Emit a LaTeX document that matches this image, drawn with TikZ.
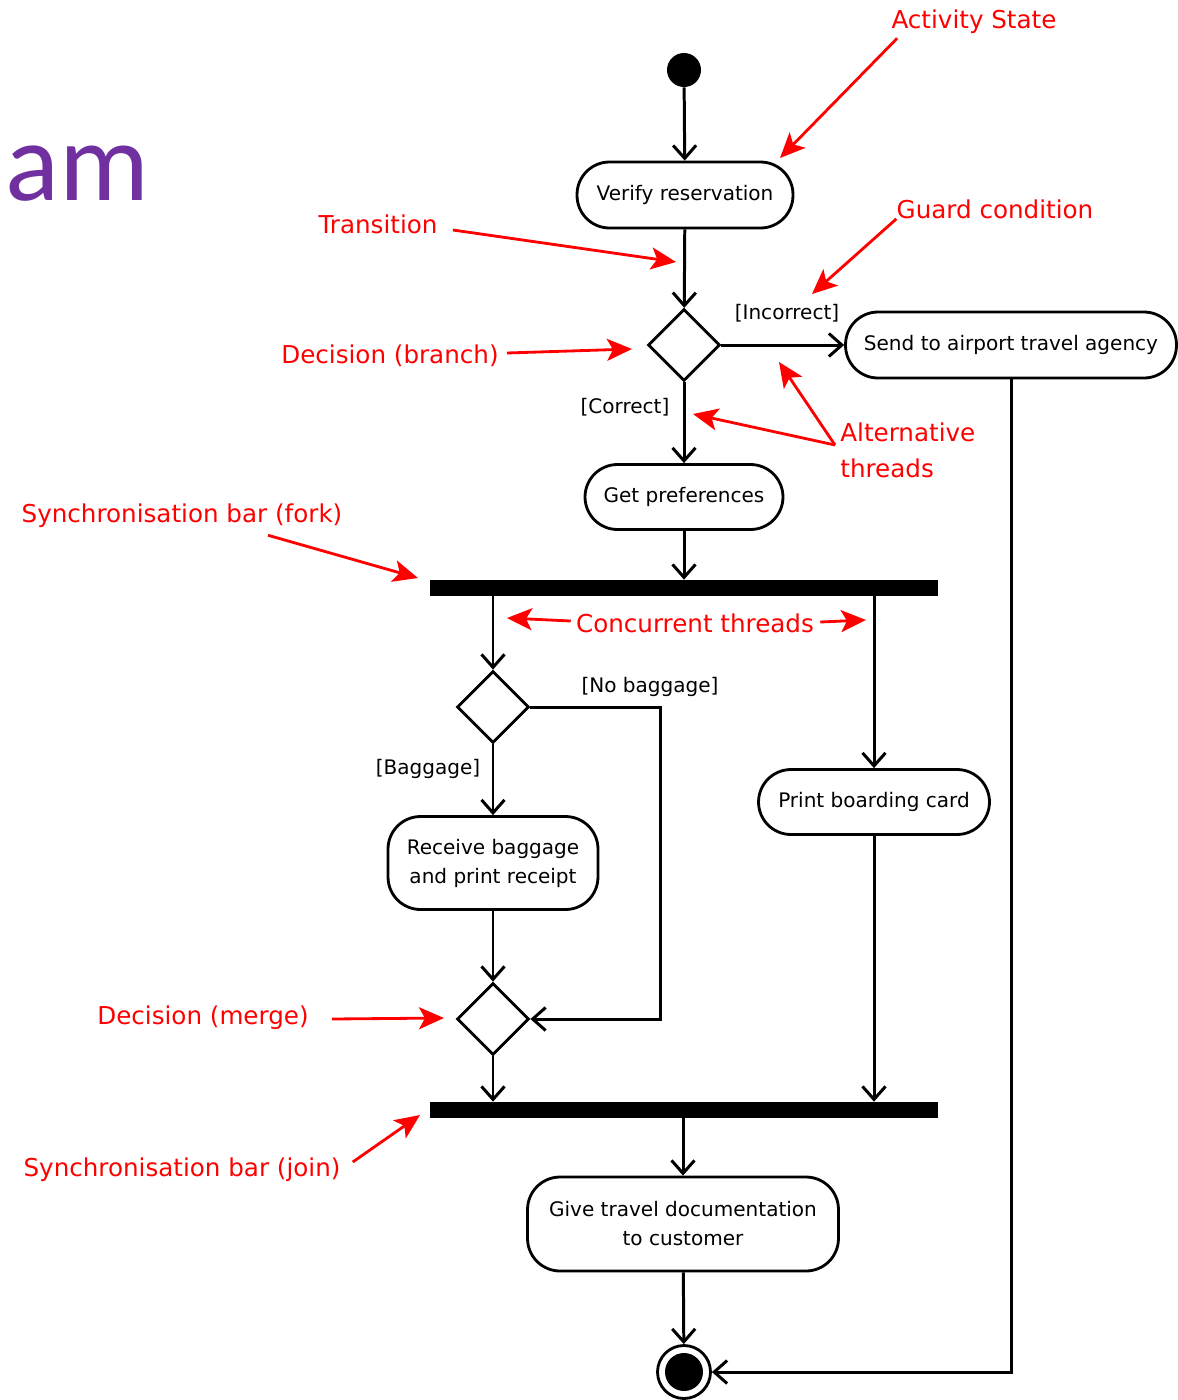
\documentclass[tikz,border=0pt]{standalone}
\usepackage{fontspec}
\setmainfont{DejaVu Sans}
\newfontfamily\titlefont{Carlito}
\usetikzlibrary{calc,shapes.geometric,arrows.meta}
\definecolor{notered}{RGB}{255,0,0}
\definecolor{titlepurple}{RGB}{112,48,160}

\begin{document}
\begin{tikzpicture}[x=0.02cm, y=-0.02cm,
    activity/.style={rectangle, draw, rounded corners=0.65cm, line width=1.6pt,
      align=center, font=\fontsize{11.4}{16.5}\selectfont, inner sep=0pt},
    decision/.style={diamond, draw, line width=1.6pt, minimum width=1.44cm,
      minimum height=1.44cm, inner sep=0pt},
    bar/.style={rectangle, fill, minimum width=10.16cm, minimum height=0.32cm, inner sep=0pt},
    guard/.style={font=\fontsize{11.4}{14}\selectfont, inner sep=0pt},
    note/.style={text=notered, font=\fontsize{14}{20.4}\selectfont, inner sep=0pt},
    flow/.style={->, line width=1.7pt},
    hint/.style={-{Stealth[length=0.5cm,width=0.44cm,inset=0.12cm]}, draw=notered, line width=1.6pt},
    >={Straight Barb[length=0.26cm,width=0.46cm]}]
  \useasboundingbox (0,0) rectangle (1177,1400);
  \node[anchor=base east, text=titlepurple, font=\titlefont\fontsize{64}{70}\selectfont,
    inner sep=0pt] (title) at (150,200) {am};

  \node[circle, fill, minimum size=0.68cm, inner sep=0pt] (start) at (684,70) {};
  \node[activity, minimum width=4.32cm, minimum height=1.32cm] (verify) at (685,195) {Verify reservation};
  \node[decision] (branch) at (684,345) {};
  \node[activity, minimum width=6.62cm, minimum height=1.32cm] (agency) at (1011,345) {Send to airport travel agency};
  \node[activity, minimum width=3.96cm, minimum height=1.3cm] (prefs) at (684,497) {Get preferences};
  \node[bar] (fork) at (684,588) {};
  \node[decision] (bags) at (493,707) {};
  \node[activity, minimum width=4.2cm, minimum height=1.86cm] (receipt) at (493,863) {Receive baggage\\and print receipt};
  \node[decision] (merge) at (493,1019) {};
  \node[activity, minimum width=4.62cm, minimum height=1.3cm] (boarding) at (874,802) {Print boarding card};
  \node[bar] (join) at (684,1110) {};
  \node[activity, minimum width=6.22cm, minimum height=1.88cm] (docs) at (683,1224) {Give travel documentation\\to customer};
  \node[circle, draw, line width=1.6pt, minimum size=1.06cm, inner sep=0pt,
    path picture={\fill (path picture bounding box.center) circle (0.38cm);}] (finish) at (684,1372) {};
  \coordinate (nobag) at (660,707);

  \node[guard] (incorrect) at (787,313) {[Incorrect]};
  \node[guard] (correct) at (625,407) {[Correct]};
  \node[guard] (nobaglabel) at (650,687) {[No baggage]};
  \node[guard] (baglabel) at (428,769) {[Baggage]};

  \draw[flow] (start) -- (verify);
  \draw[flow] (verify) -- (branch);
  \draw[flow] (branch) -- (agency);
  \draw[flow] (branch) -- (prefs);
  \draw[flow] (prefs) -- (prefs |- fork.north);
  \draw[flow] (bags |- fork.south) -- (bags);
  \draw[flow] (boarding |- fork.south) -- (boarding);
  \draw[flow] (bags) -- (receipt);
  \draw[flow] (bags.east) -- (nobag) |- (merge.east);
  \draw[flow] (receipt) -- (merge);
  \draw[flow] (merge) -- (merge |- join.north);
  \draw[flow] (boarding) -- (boarding |- join.north);
  \draw[flow] (docs |- join.south) -- (docs);
  \draw[flow] (docs) -- (finish);
  \draw[flow] (agency.south) |- (finish);

  \node[note] (actnote) at (974,22) {Activity State};
  \node[note] (guardnote) at (995,209) {Guard condition};
  \node[note] (transnote) at (378,224) {Transition};
  \node[note] (branchnote) at (390,356) {Decision (branch)};
  \node[note, align=left, anchor=west] (altnote) at (840,450) {Alternative\\threads};
  \node[note] (forknote) at (182,516) {Synchronisation bar (fork)};
  \node[note] (concnote) at (695,623) {Concurrent threads};
  \node[note] (mergenote) at (203,1018) {Decision (merge)};
  \node[note] (joinnote) at (182,1170) {Synchronisation bar (join)};

  \coordinate (acttip) at (780,158);
  \coordinate (guardtip) at (812,294);
  \coordinate (transtip) at (676,262);
  \coordinate (branchtip) at (632,349);
  \coordinate (alttipa) at (693,414);
  \coordinate (alttipb) at (779,362);
  \coordinate (forktip) at (418,578);
  \coordinate (conctipl) at (507,618);
  \coordinate (conctipr) at (866,620);
  \coordinate (mergetip) at (444,1018);
  \coordinate (jointip) at (420,1115);

  \draw[hint] ($(actnote.south west)+(6,4)$) -- (acttip);
  \draw[hint] (guardnote.south west) -- (guardtip);
  \draw[hint] ($(transnote.east)+(15,6)$) -- (transtip);
  \draw[hint] ($(branchnote.east)+(8,-3)$) -- (branchtip);
  \draw[hint] ($(altnote.west)+(-5,-5)$) -- (alttipa);
  \draw[hint] ($(altnote.west)+(-5,-5)$) -- (alttipb);
  \draw[hint] ($(forknote.south)+(86,7)$) -- (forktip);
  \draw[hint] ($(concnote.west)+(-5,-2)$) -- (conctipl);
  \draw[hint] ($(concnote.east)+(6,-1)$) -- (conctipr);
  \draw[hint] ($(mergenote.east)+(23,1)$) -- (mergetip);
  \draw[hint] ($(joinnote.east)+(12,-8)$) -- (jointip);
\end{tikzpicture}
\end{document}
